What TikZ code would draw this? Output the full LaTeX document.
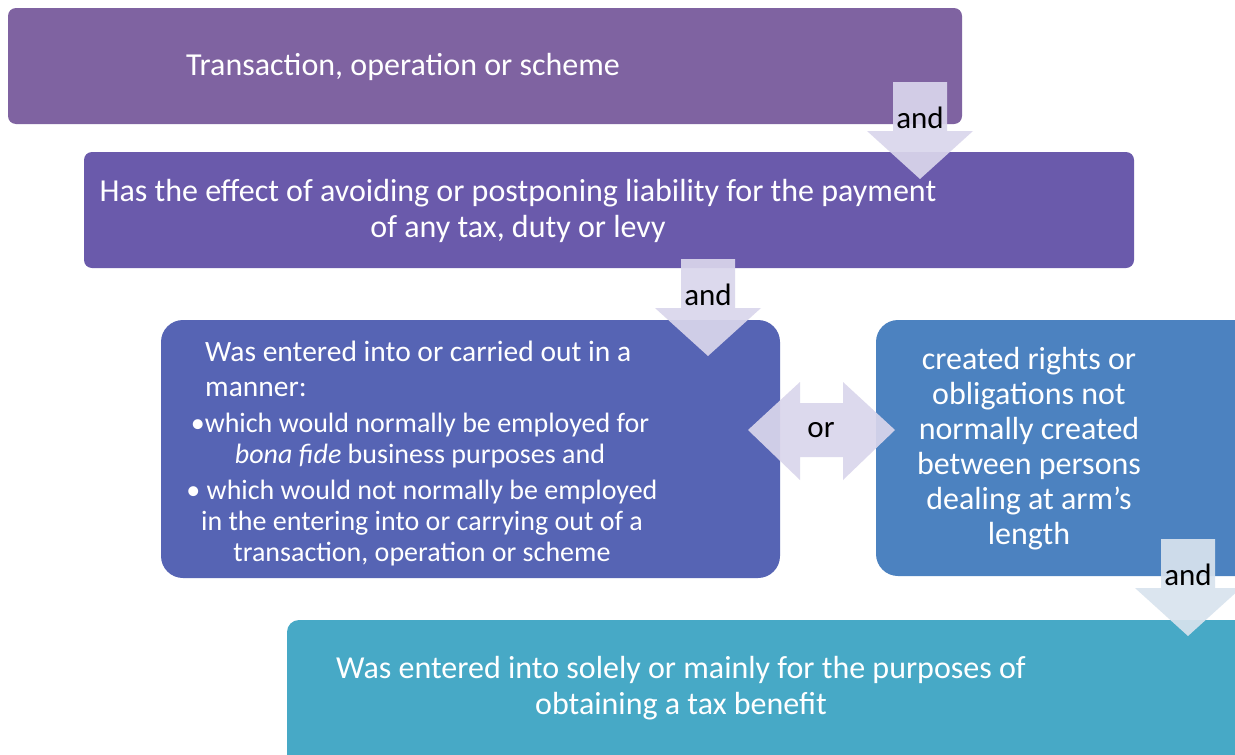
\documentclass[tikz,border=0pt]{standalone}
\usepackage{fontspec}
\setmainfont{Carlito}
\usepackage{tikz}
\definecolor{boxa}{HTML}{7F63A1}
\definecolor{boxb}{HTML}{6A5AAB}
\definecolor{boxc}{HTML}{5664B4}
\definecolor{boxd}{HTML}{4C82C0}
\definecolor{boxe}{HTML}{47A9C6}
\definecolor{flowfill}{HTML}{DAD6EC}
\definecolor{flowblue}{HTML}{D8E3EE}

\begin{document}
\begin{tikzpicture}[x=1pt,y=-1pt,
  box/.style={inner sep=0pt, draw=none},
  boxtext/.style={text=white, inner sep=0pt, align=center, font=\fontsize{32}{36}\selectfont},
  flow/.style={fill=flowfill, fill opacity=0.92},
  joinlbl/.style={text=black, inner sep=0pt, font=\fontsize{31}{36}\selectfont}]
\newcommand{\andarrow}[4]{%
  \fill[flow, fill=#3] (#1-27,#2) -- (#1+27,#2) -- (#1+27,#2+49) -- (#1+53,#2+49)
    -- (#1,#2+97) -- (#1-53,#2+49) -- (#1-27,#2+49) -- cycle;
  \node[joinlbl] (#4) at (#1,#2+36) {and};}
\useasboundingbox (0,0) rectangle (1235,755);
\clip (0,0) rectangle (1235,755);
\fill[white] (0,0) rectangle (1235,755);

\node[box, fill=boxa, rounded corners=8pt, minimum width=954pt, minimum height=116pt] (trans) at (485,66) {};
\node[box, fill=boxb, rounded corners=8pt, minimum width=1050pt, minimum height=116pt] (effect) at (609,210) {};
\node[box, fill=boxc, rounded corners=22pt, minimum width=619pt, minimum height=258pt] (manner) at (470.5,449) {};
\node[box, fill=boxd, rounded corners=22pt, minimum width=386pt, minimum height=256pt] (rights) at (1069,448) {};
\node[box, fill=boxe, rounded corners=12pt, minimum width=973pt, minimum height=150pt] (benefit) at (773.5,695) {};

\node[boxtext] (transtext) at (403,67) {Transaction, operation or scheme};
\node[boxtext] (effecttext) at (518,211) {Has the effect of avoiding or postponing liability for the payment\\of any tax, duty or levy};
\node[boxtext, align=left, anchor=west, font=\fontsize{29.5}{35}\selectfont] (mannerhead) at (205,369)
  {Was entered into or carried out in a\\manner:};
\node[boxtext, font=\fontsize{28}{31}\selectfont] (bulletone) at (420,441)
  {•which would normally be employed for\\\emph{bona fide} business purposes and};
\node[boxtext, font=\fontsize{28}{31}\selectfont] (bullettwo) at (422,523)
  {• which would not normally be employed\\in the entering into or carrying out of a\\transaction, operation or scheme};
\node[boxtext, font=\fontsize{32}{35}\selectfont] (rightstext) at (1029,449)
  {created rights or\\obligations not\\normally created\\between persons\\dealing at arm’s\\length};
\node[boxtext] (benefittext) at (681,688) {Was entered into solely or mainly for the purposes of\\obtaining a tax benefit};

\andarrow{920}{82}{flowfill}{andone}
\andarrow{708}{259}{flowfill}{andtwo}
\andarrow{1188}{539}{flowblue}{andthree}

\fill[flow] (748,430) -- (800,382) -- (800,403) -- (843,403) -- (843,382) -- (895,430)
  -- (843,480) -- (843,457) -- (800,457) -- (800,480) -- cycle;
\node[joinlbl] (either) at (821,430) {or};
\end{tikzpicture}
\end{document}
